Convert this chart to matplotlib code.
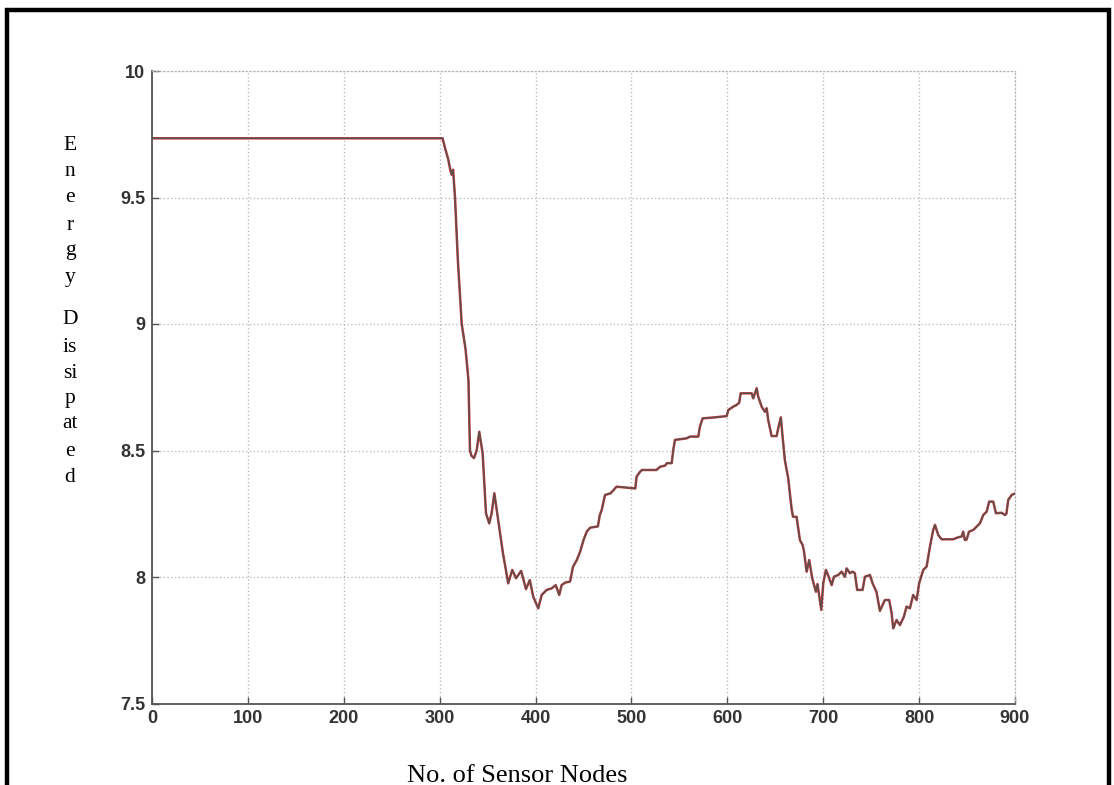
import matplotlib
matplotlib.use("Agg")
import matplotlib.pyplot as plt
from matplotlib.patches import Rectangle

# ---- data ----
node_x = [0, 303, 306, 309, 311, 312.5, 314, 316, 319, 323, 327, 330, 331.6, 333, 335.8, 338.6,
          341.3, 344.8, 348.3, 351.7, 354.2, 357, 361, 366, 371.5, 375.7, 379.6, 385, 390, 394,
          397.6, 402.8, 406.4, 411.6, 416.8, 421, 424.7, 427.2, 431, 436, 439, 443, 446.5, 450,
          453.5, 457, 465, 467, 469, 472.4, 478.3, 484.5, 504, 505.4, 509, 511, 526, 530, 535,
          537, 542, 543.6, 545.4, 557.5, 561, 569.7, 571.4, 574.2, 587, 599.3, 601, 606, 609.6,
          612.4, 613.9, 625.4, 627, 630.6, 632.2, 635.8, 639.2, 641, 642.6, 646.2, 651.4, 653,
          655.8, 657.6, 660, 663.5, 667, 668.5, 672.2, 675.7, 678.5, 680, 682.7, 685.4, 688.5,
          692.4, 694, 696, 698, 700, 702.8, 706.3, 708.8, 711.2, 715.7, 719.2, 722.6, 724.4,
          727.8, 730.6, 733, 735.4, 741, 743.5, 748.7, 751.5, 755.6, 759.1, 764.3, 768.8, 771.3,
          773, 776.5, 780, 784.1, 786.9, 790.4, 793.8, 797.4, 800, 804.3, 807.8, 811.3, 814.7,
          816.5, 820, 823.4, 835.5, 840.8, 844.3, 846, 847.7, 849.5, 852, 856.5, 860, 863.4,
          866.9, 870.4, 873.1, 877.3, 880.1, 886, 889.5, 891, 892.9, 896.4, 900]
energy = [9.734, 9.734, 9.69, 9.65, 9.61, 9.59, 9.61, 9.50, 9.25, 9.00, 8.90, 8.78, 8.50, 8.48,
          8.47, 8.50, 8.574, 8.489, 8.252, 8.212, 8.252, 8.331, 8.225, 8.094, 7.975, 8.028,
          7.995, 8.024, 7.952, 7.988, 7.922, 7.876, 7.929, 7.949, 7.955, 7.968, 7.929, 7.968,
          7.978, 7.982, 8.04, 8.067, 8.10, 8.146, 8.18, 8.195, 8.2, 8.245, 8.265, 8.324, 8.331,
          8.357, 8.35, 8.397, 8.416, 8.423, 8.423, 8.436, 8.44, 8.45, 8.45, 8.502, 8.542, 8.548,
          8.555, 8.555, 8.594, 8.627, 8.631, 8.636, 8.66, 8.673, 8.68, 8.689, 8.726, 8.726,
          8.706, 8.746, 8.713, 8.673, 8.653, 8.667, 8.621, 8.557, 8.557, 8.587, 8.631, 8.555,
          8.462, 8.39, 8.27, 8.238, 8.238, 8.146, 8.127, 8.1, 8.021, 8.067, 7.995, 7.942, 7.972,
          7.922, 7.87, 7.975, 8.028, 7.995, 7.968, 8.001, 8.008, 8.021, 8.001, 8.034, 8.015,
          8.021, 8.015, 7.949, 7.949, 8.001, 8.008, 7.975, 7.94, 7.866, 7.909, 7.909, 7.857,
          7.797, 7.83, 7.81, 7.843, 7.883, 7.876, 7.929, 7.909, 7.975, 8.028, 8.041, 8.12,
          8.186, 8.206, 8.166, 8.149, 8.149, 8.157, 8.16, 8.179, 8.146, 8.148, 8.179, 8.186,
          8.199, 8.212, 8.245, 8.258, 8.298, 8.298, 8.252, 8.254, 8.245, 8.25, 8.304, 8.324, 8.33]

x_ticks = [0, 100, 200, 300, 400, 500, 600, 700, 800, 900]
y_ticks = [7.5, 8, 8.5, 9, 9.5, 10]
y_tick_labels = ["7.5", "8", "8.5", "9", "9.5", "10"]
ylabel_lines = ["E", "n", "e", "r", "g", "y", "D", "is", "si", "p", "at", "e", "d"]
xlabel_text = "No. of Sensor Nodes"

W, H = 1114, 785
fig = plt.figure(figsize=(W / 100, H / 100), dpi=100)
fig.patch.set_facecolor("white")

ax = fig.add_axes([152 / W, 1 - 703.5 / H, (1015 - 152) / W, (703.5 - 71) / H])
ax.plot(node_x, energy, color="#c83a3a", lw=1.8, solid_joinstyle="round")
ax.plot(node_x, energy, color="#5a4f4f", lw=1.0, solid_joinstyle="round")

ax.set_xlim(0, 900)
ax.set_ylim(7.5, 10)
ax.set_xticks(x_ticks)
ax.set_yticks(y_ticks)
ax.set_yticklabels(y_tick_labels)
ax.grid(True, color="#b5b5b5", linestyle=(0, (1, 2)), lw=0.9)
for s in ["top", "right"]:
    ax.spines[s].set_color("#b5b5b5")
    ax.spines[s].set_linestyle((0, (1, 2)))
    ax.spines[s].set_linewidth(0.9)
for s in ["left", "bottom"]:
    ax.spines[s].set_color("#555555")
    ax.spines[s].set_linewidth(1.3)
ax.tick_params(direction="in", length=5, width=1.0, color="#555555",
               labelsize=13, labelcolor="#333333", pad=5)
for lab in ax.get_xticklabels() + ax.get_yticklabels():
    lab.set_family("Liberation Sans")
    lab.set_weight("bold")

# vertical stacked y-label
ys = [145, 172, 198, 225, 251, 278, 320, 347, 373, 398, 424, 452, 478]
for t, yy in zip(ylabel_lines, ys):
    fig.text(70 / W, 1 - yy / H, t, family="Liberation Serif", fontsize=15.5,
             ha="center", va="center", color="black")

fig.text(517 / W, 1 - 782 / H, xlabel_text, family="Liberation Serif", fontsize=19,
         ha="center", va="baseline", color="black")

# black frame
fig.patches.append(Rectangle((7 / W, -0.05), (1109 - 7) / W, (1 - 9.5 / H) + 0.05,
                             transform=fig.transFigure, fill=False, edgecolor="black",
                             lw=3.2, zorder=10))

fig.savefig("out.png", dpi=100, facecolor="white")
